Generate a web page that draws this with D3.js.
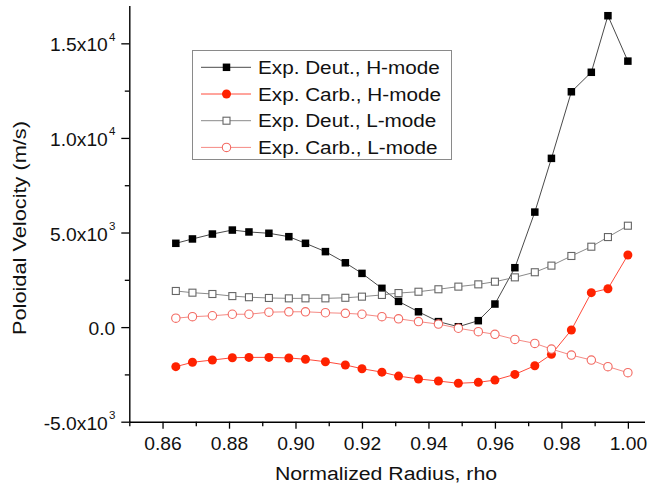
<!DOCTYPE html>
<html>
<head>
<meta charset="utf-8">
<script src="https://cdnjs.cloudflare.com/ajax/libs/d3/7.8.5/d3.min.js"></script>
<style>
body{margin:0;background:#fff;}
svg{display:block;}
text{font-family:"Liberation Sans",Arial,Helvetica,sans-serif;fill:#111;}
</style>
</head>
<body>
<script>
//
// data
//
var rho = [0.864,0.869,0.875,0.881,0.886,0.892,0.898,0.903,0.909,0.915,0.920,0.926,0.931,
           0.937,0.943,0.949,0.955,0.960,0.966,0.972,0.977,0.983,0.989,0.994,1.000];
var deutH = [4430,4660,4920,5130,5030,4960,4780,4430,3990,3400,2840,2050,1360,
             810,290,20,340,1220,3140,6080,8920,12440,13470,16460,14060];
var carbH = [-2090,-1860,-1740,-1620,-1600,-1600,-1630,-1700,-1830,-2000,-2200,-2380,-2590,
             -2740,-2850,-2970,-2920,-2800,-2500,-2040,-1440,-150,1820,2030,3810];
var deutL = [1910,1820,1750,1640,1580,1540,1520,1520,1520,1550,1610,1700,1800,
             1870,2000,2140,2260,2400,2630,2900,3250,3760,4250,4760,5360];
var carbL = [470,550,600,680,680,790,810,810,760,730,680,550,440,
             290,160,-60,-240,-380,-650,-860,-1160,-1480,-1740,-2090,-2410];

var legendNames = ["Exp. Deut., H-mode","Exp. Carb., H-mode","Exp. Deut., L-mode","Exp. Carb., L-mode"];
var xTicks = [0.86,0.88,0.90,0.92,0.94,0.96,0.98,1.00];
var xMinor = [0.85,0.87,0.89,0.91,0.93,0.95,0.97,0.99];
var yTicks = [-5000,0,5000,10000,15000];
var yMinor = [-2500,2500,7500,12500];

var width = 649, height = 491;
var svg = d3.select("body").append("svg").attr("width",width).attr("height",height);

var x = d3.scaleLinear().domain([0.85,1.005]).range([129.3,644.5]);
var y = d3.scaleLinear().domain([-5000,17000]).range([421.7,5.5]);

// the original text looks a bit wider than Arial
function widen(sel, k){
    sel.each(function(){
        var t = d3.select(this);
        var tx = +t.attr("x") || 0, ty = +t.attr("y") || 0;
        t.attr("transform","translate("+tx+","+ty+") scale("+k+",1) translate("+(-tx)+","+(-ty)+")");
    });
}

//
// axes
//
var gx = svg.append("g").attr("transform","translate(0,"+y(-5000)+")")
    .call(d3.axisBottom(x).tickValues(xTicks).tickFormat(d3.format(".2f")).tickSize(7).tickSizeOuter(0).tickPadding(8.5));
var gxm = svg.append("g").attr("transform","translate(0,"+y(-5000)+")")
    .call(d3.axisBottom(x).tickValues(xMinor).tickFormat("").tickSize(4.5));
gxm.select(".domain").remove();

var gy = svg.append("g").attr("transform","translate("+x(0.85)+",0)")
    .call(d3.axisLeft(y).tickValues(yTicks).tickSize(8).tickSizeOuter(0).tickPadding(6));
var gym = svg.append("g").attr("transform","translate("+x(0.85)+",0)")
    .call(d3.axisLeft(y).tickValues(yMinor).tickFormat("").tickSize(4.5));
gym.select(".domain").remove();

svg.selectAll(".domain").attr("stroke","#000").attr("stroke-width",1.4);
svg.selectAll(".tick line").attr("stroke","#000").attr("stroke-width",1.3);

gx.selectAll("text").attr("font-size",17.5).attr("fill","#111").call(widen,1.1);

// y labels like 1.5x10^4
gy.selectAll(".tick text").each(function(d){
    var t = d3.select(this);
    t.text(null).attr("font-size",17.5).attr("fill","#111").attr("dy","0.43em");
    if(d==0){ t.text("0.0"); return; }
    var e = Math.floor(Math.log10(Math.abs(d)));
    var m = d/Math.pow(10,e);
    t.append("tspan").text(m.toFixed(1)+"x10");
    t.append("tspan").attr("font-size",10.5).attr("dy",-10.5).attr("dx",1).text(e);
});
gy.selectAll(".tick text").call(widen,1.1);

//
// series
//
var series = [
    {vals:deutH, line:"#4a4a4a", shape:"square", fill:"#000", stroke:"#000"},
    {vals:carbH, line:"#ff4a3a", shape:"circle", fill:"#ff2200", stroke:"#ff2200"},
    {vals:deutL, line:"#8a8a8a", shape:"square", fill:"#fff", stroke:"#666"},
    {vals:carbL, line:"#f58a84", shape:"circle", fill:"#fff", stroke:"#f36a62"}
];

var line = d3.line().x(function(d){return x(d[0]);}).y(function(d){return y(d[1]);});

function marker(g, s, cx, cy){
    if(s.shape=="square"){
        var a = s.fill=="#fff" ? 7 : 7.5;
        g.append("rect").attr("x",cx-a/2).attr("y",cy-a/2).attr("width",a).attr("height",a)
            .attr("fill",s.fill).attr("stroke",s.stroke).attr("stroke-width",s.fill=="#fff"?1.1:0);
    } else {
        var r = s.fill=="#fff" ? 4.2 : 4.5;
        g.append("circle").attr("cx",cx).attr("cy",cy).attr("r",r)
            .attr("fill",s.fill).attr("stroke",s.stroke).attr("stroke-width",s.fill=="#fff"?1.1:0);
    }
}

series.forEach(function(s){
    var pts = rho.map(function(r,i){return [r,s.vals[i]];});
    var g = svg.append("g");
    g.append("path").attr("d",line(pts)).attr("fill","none").attr("stroke",s.line).attr("stroke-width",1);
    pts.forEach(function(p){ marker(g, s, x(p[0]), y(p[1])); });
});

//
// legend
//
var lg = svg.append("g");
lg.append("rect").attr("x",192.5).attr("y",50.5).attr("width",259).attr("height",109)
    .attr("fill","#fff").attr("stroke","#8a8a8a").attr("stroke-width",1);
series.forEach(function(s,i){
    var cy = 67.3 + i*26.7;
    lg.append("line").attr("x1",201).attr("x2",251).attr("y1",cy).attr("y2",cy)
        .attr("stroke",s.line).attr("stroke-width",1);
    marker(lg, s, 226.5, cy);
    lg.append("text").attr("x",258).attr("y",cy+6.6).attr("font-size",18.5).text(legendNames[i]);
});
lg.selectAll("text").call(widen,1.12);

// titles
svg.append("text").attr("x",386).attr("y",480).attr("text-anchor","middle").attr("font-size",19)
    .text("Normalized Radius, rho").call(widen,1.12);
svg.append("text").attr("transform","translate(25.5,228) rotate(-90)").attr("text-anchor","middle")
    .attr("font-size",18).attr("textLength",214).attr("lengthAdjust","spacingAndGlyphs")
    .text("Poloidal Velocity (m/s)");
</script>
</body>
</html>
